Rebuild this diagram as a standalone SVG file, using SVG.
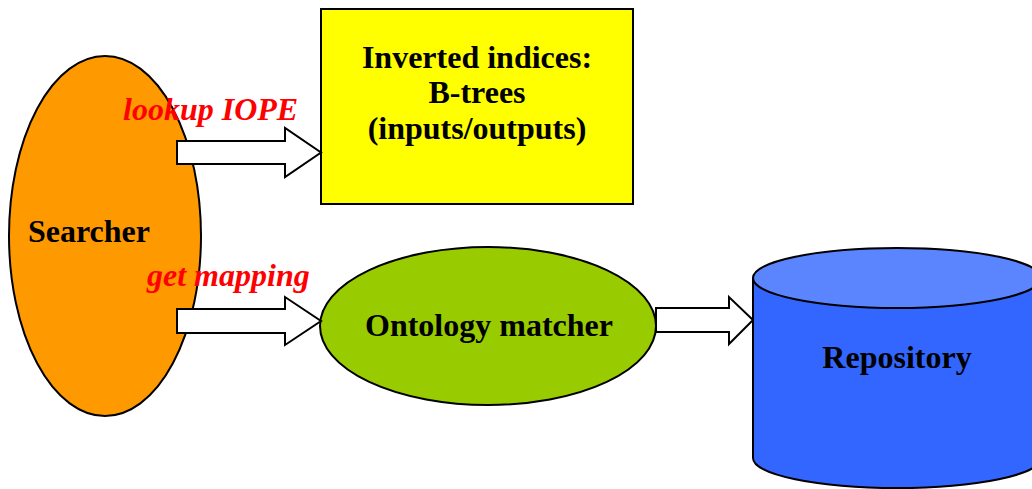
<svg xmlns="http://www.w3.org/2000/svg" width="1032" height="489" viewBox="0 0 1032 489">
<style>
.lbl{font-family:"Liberation Serif","Times New Roman",serif;font-weight:bold;font-size:32px;fill:#000}
.rel{font-family:"Liberation Serif","Times New Roman",serif;font-weight:bold;font-style:italic;font-size:32px;fill:#ff0000}
.ln{stroke:#000;stroke-width:2}
.arrow{fill:#fff;stroke:#000;stroke-width:2;stroke-linejoin:miter}
</style>
<rect width="1032" height="489" fill="#fff"/>
<g id="searcher">
<ellipse cx="105" cy="236" rx="96" ry="180" fill="#ff9900" class="ln"/>
<text x="89" y="242" text-anchor="middle" class="lbl">Searcher</text>
</g>
<g id="inverted-indices">
<rect x="321" y="9" width="312" height="195" fill="#ffff00" class="ln"/>
<text x="477" y="68" text-anchor="middle" class="lbl">Inverted indices:</text>
<text x="477" y="103" text-anchor="middle" class="lbl">B-trees</text>
<text x="477" y="139" text-anchor="middle" class="lbl">(inputs/outputs)</text>
</g>
<g id="ontology-matcher">
<ellipse cx="488" cy="326" rx="168" ry="79" fill="#99cc00" class="ln"/>
<text x="489" y="336" text-anchor="middle" class="lbl">Ontology matcher</text>
</g>
<g id="repository">
<path d="M753 278 L753 458 A144 30 0 0 0 1041 458 L1041 278 Z" fill="#3366ff" class="ln"/>
<ellipse cx="897" cy="278" rx="144" ry="30" fill="#5b85ff" class="ln"/>
<text x="897" y="368" text-anchor="middle" class="lbl">Repository</text>
</g>
<g id="connectors">
<path class="arrow" d="M177 141 L285 141 L285 128 L321 152.5 L285 177 L285 164 L177 164 Z"/>
<path class="arrow" d="M177 309 L285 309 L285 297 L321 321 L285 345 L285 333 L177 333 Z"/>
<path class="arrow" d="M656 308 L729 308 L729 297 L753 320 L729 344 L729 332 L656 332 Z"/>
<text x="123" y="120" class="rel">lookup IOPE</text>
<text x="147" y="286" class="rel">get mapping</text>
</g>
</svg>
